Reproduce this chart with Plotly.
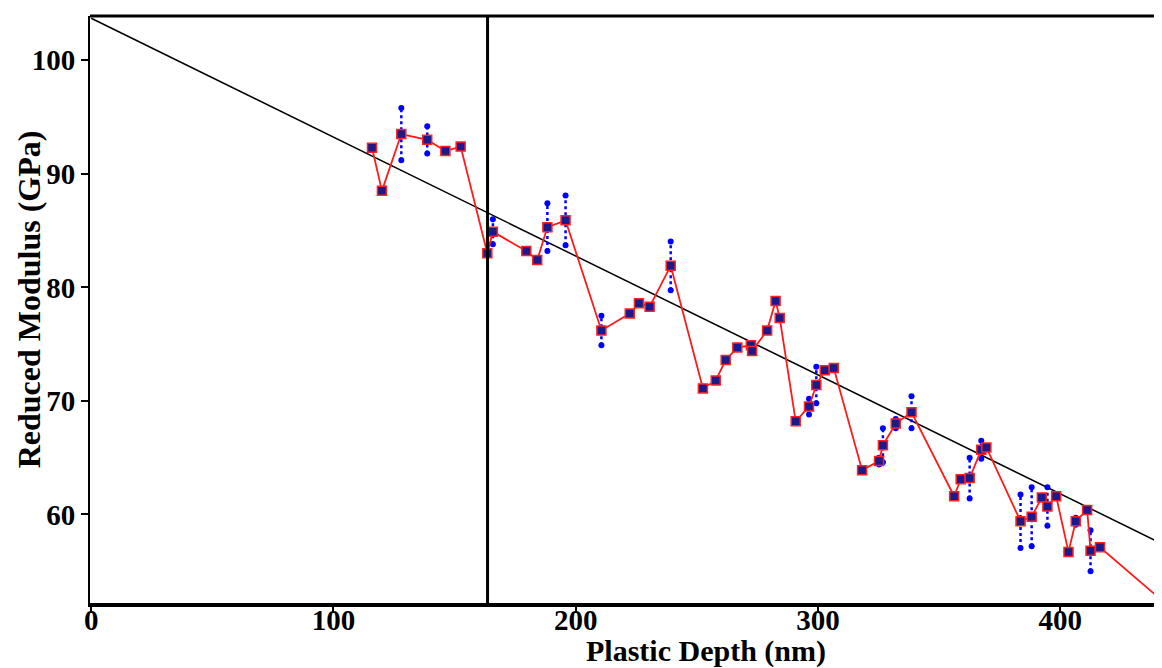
import plotly.graph_objects as go

# ---- data ----
depth = [115.9, 120.0, 128.0, 138.7, 146.2, 152.5, 163.5, 165.8, 179.6, 184.1,
         188.3, 195.8, 210.6, 222.3, 226.1, 230.5, 239.2, 252.5, 257.8, 261.9,
         266.7, 272.3, 272.8, 279.0, 282.5, 284.2, 290.8, 296.3, 299.3, 302.8,
         306.5, 318.2, 325.2, 326.8, 332.1, 338.6, 356.2, 358.9, 362.6, 367.4,
         369.5, 383.6, 388.2, 392.4, 394.7, 398.3, 403.4, 406.4, 411.1, 412.5,
         416.4, 441.0]
modulus = [92.3, 88.5, 93.5, 93.0, 92.0, 92.4, 83.0, 84.9, 83.2, 82.4,
           85.3, 85.9, 76.2, 77.7, 78.6, 78.3, 81.9, 71.1, 71.8, 73.6,
           74.7, 74.9, 74.4, 76.2, 78.8, 77.3, 68.2, 69.5, 71.4, 72.7,
           72.9, 63.9, 64.7, 66.1, 68.0, 69.0, 61.6, 63.1, 63.2, 65.7,
           65.9, 59.4, 59.8, 61.5, 60.7, 61.6, 56.7, 59.4, 60.4, 56.8,
           57.1, 52.6]
error = [0, 0, 2.3, 1.2, 0, 0, 0, 1.1, 0, 0,
         2.1, 2.2, 1.3, 0, 0, 0, 2.15, 0, 0, 0,
         0, 0, 0, 0, 0, 0, 0, 0.7, 1.6, 0,
         0, 0, 0.3, 1.5, 0.4, 1.4, 0, 0, 1.8, 0.8,
         0, 2.35, 2.6, 0, 1.7, 0, 0, 0.3, 0, 1.8,
         0, 0.8]
fit_x = [0, 446]
fit_y = [103.7, 57.0]
cutoff_depth = 163.6

x_ticks = [0, 100, 200, 300, 400]
y_ticks = [60, 70, 80, 90, 100]

FONT = "Liberation Serif"

# error bar segments built from the data
ex, ey, dx, dy = [], [], [], []
for xi, yi, e in zip(depth, modulus, error):
    if e > 0:
        ex += [xi, xi, None]
        ey += [yi - e, yi + e, None]
        dx += [xi, xi]
        dy += [yi - e, yi + e]

fig = go.Figure()

fig.add_trace(go.Scatter(x=fit_x, y=fit_y, mode="lines",
                         line=dict(color="black", width=1.5), hoverinfo="skip"))
fig.add_trace(go.Scatter(x=ex, y=ey, mode="lines",
                         line=dict(color="#0000ff", width=2.5, dash="dot"),
                         hoverinfo="skip"))
fig.add_trace(go.Scatter(x=dx, y=dy, mode="markers",
                         marker=dict(color="#0000ff", size=6, symbol="circle"),
                         hoverinfo="skip"))
fig.add_trace(go.Scatter(x=depth, y=modulus, mode="lines+markers",
                         line=dict(color="#ff1a1a", width=1.8),
                         marker=dict(symbol="square", size=9, color="#1a1a8c",
                                     line=dict(color="#ff2020", width=1.5))))

fig.add_shape(type="line", x0=cutoff_depth, x1=cutoff_depth, xref="x",
              y0=0, y1=1, yref="paper", line=dict(color="black", width=3))
fig.add_shape(type="line", x0=0, x1=1, xref="paper", y0=1, y1=1, yref="paper",
              line=dict(color="black", width=3))

# page body adds an 8px offset; margins compensate
fig.update_layout(
    width=1162, height=668,
    margin=dict(l=82, r=0, t=8, b=73),
    paper_bgcolor="white", plot_bgcolor="white",
    showlegend=False,
    font=dict(family=FONT, size=29, color="black"),
    xaxis=dict(range=[-0.5, 445.3], tickvals=x_ticks, ticks="outside", ticklen=6,
               tickwidth=2, tickcolor="black", showline=True, linecolor="black",
               linewidth=3.5, showgrid=False, zeroline=False,
               ticklabelstandoff=-18,
               tickfont=dict(family=FONT, size=29, color="black")),
    yaxis=dict(range=[52.2, 103.9], tickvals=y_ticks, ticks="outside", ticklen=7,
               tickwidth=2, tickcolor="black", showline=True, linecolor="black",
               linewidth=2, showgrid=False, zeroline=False,
               tickfont=dict(family=FONT, size=29, color="black")),
    annotations=[
        dict(text="<b>Plastic Depth (nm)</b>", xref="paper", yref="paper",
             x=0.5704, y=-0.081, xanchor="center", yanchor="middle",
             showarrow=False, font=dict(family=FONT, size=30, color="black")),
        dict(text="<b>Reduced Modulus (GPa)</b>", xref="paper", yref="paper",
             x=-0.057, y=0.518, xanchor="center", yanchor="middle",
             textangle=-90, showarrow=False,
             font=dict(family=FONT, size=32, color="black")),
    ],
)
fig.update_xaxes(tickfont_weight="bold")
fig.update_yaxes(tickfont_weight="bold")

fig.write_html("out.html")
